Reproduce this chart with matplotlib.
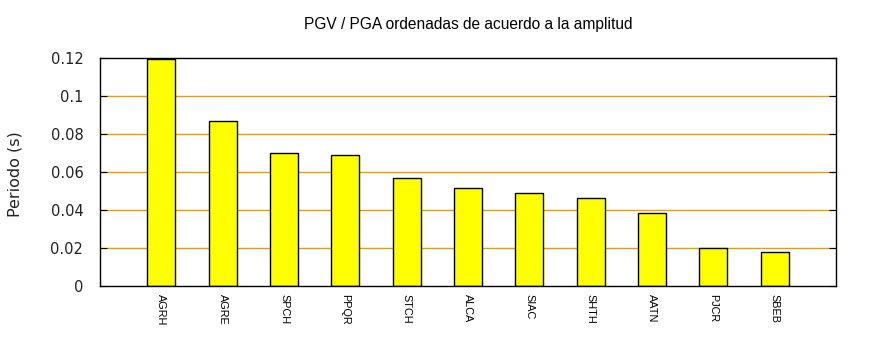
import matplotlib
matplotlib.use("Agg")
import matplotlib.pyplot as plt
import numpy as np

# estaciones ordenadas por amplitud
estaciones = ["AGRH", "AGRE", "SPCH", "PPQR", "STCH", "ALCA",
              "SIAC", "SHTH", "AATN", "PJCR", "SBEB"]
periodo = [0.1193, 0.0867, 0.0698, 0.0688, 0.0567, 0.0514,
           0.0488, 0.0461, 0.0383, 0.0198, 0.0177]

y_ticks = [0, 0.02, 0.04, 0.06, 0.08, 0.1, 0.12]
y_tick_labels = ["0", "0.02", "0.04", "0.06", "0.08", "0.1", "0.12"]

fig = plt.figure(figsize=(8.7, 3.5), dpi=100)
ax = fig.add_axes([100 / 870, 1 - 286 / 350, 736 / 870, 228 / 350])

x = np.arange(len(estaciones))
ax.bar(x, periodo, width=0.46, color="#ffff00", edgecolor="black",
       linewidth=1.0, zorder=3)

ax.set_xlim(-1, len(estaciones))
ax.set_ylim(0, 0.12)

# rejilla horizontal naranja
for v in y_ticks[1:-1]:
    ax.axhline(v, color="#e0a000", linewidth=1.0, zorder=1)

ax.set_yticks(y_ticks)
ax.set_yticklabels(y_tick_labels, fontsize=10.5, family="DejaVu Sans", color="#222222")
ax.tick_params(axis="y", direction="in", length=5, right=True, pad=12)
ax.set_xticks(x)
ax.set_xticklabels(estaciones, rotation=-90, fontsize=7.8, family="Liberation Sans",
                   va="top", ha="center")
ax.tick_params(axis="x", length=0, pad=6)

for s in ax.spines.values():
    s.set_linewidth(1.0)
    s.set_color("black")
    s.set_zorder(4)

ax.set_ylabel("Periodo (s)", fontsize=11.5, family="DejaVu Sans", color="#222222")
ax.yaxis.set_label_coords(-78 / 736, 0.49)

fig.text(468 / 870, 1 - 25 / 350, "PGV / PGA ordenadas de acuerdo a la amplitud",
         ha="center", va="center", fontsize=11.2, family="Liberation Sans")

fig.savefig("out.png", dpi=100)
